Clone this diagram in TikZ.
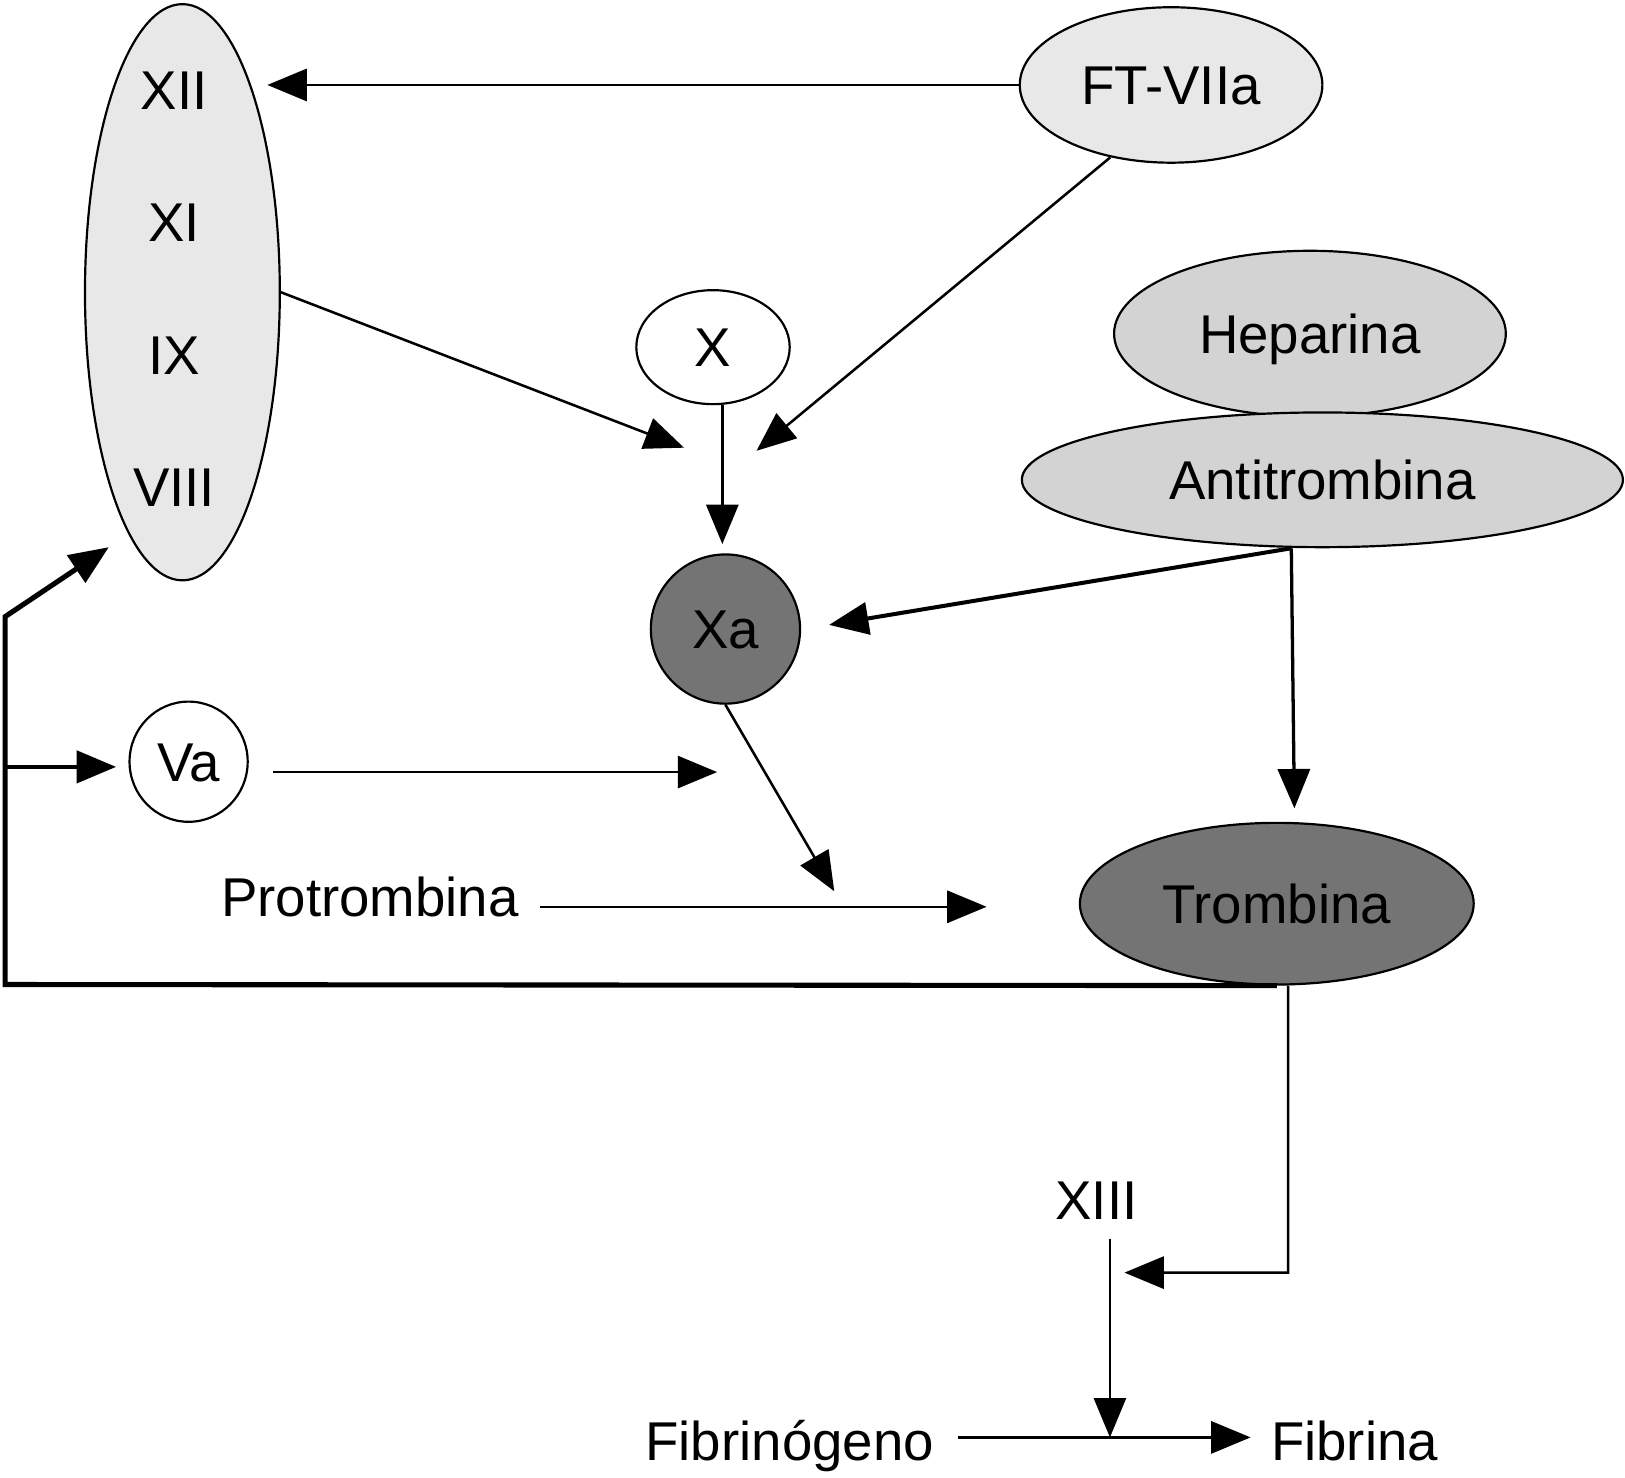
\documentclass[tikz,border=0pt]{standalone}
\usepackage{fontspec}
\setmainfont{Liberation Sans}
\usetikzlibrary{arrows.meta,shapes.geometric}
\definecolor{palefill}{HTML}{E8E8E8}
\definecolor{midfill}{HTML}{D3D3D3}
\definecolor{darkfill}{HTML}{747474}

\begin{document}
\begin{tikzpicture}[x=0.1mm, y=-0.1mm, >={Triangle[length=3.8mm,width=3.1mm]},
  factor/.style={ellipse, draw, line width=0.6pt, inner sep=0pt, font=\fontsize{15}{18}\selectfont, text height=10.7pt, text depth=0pt},
  term/.style={inner sep=0pt, font=\fontsize{15}{18}\selectfont, text height=10.7pt, text depth=0pt},
  link/.style={line width=0.7pt},
  heavy/.style={line width=1.4pt}]
\useasboundingbox (0,0) rectangle (1568,1426);
\node[factor, fill=palefill, minimum width=18.8mm, minimum height=55.6mm] (cascade) at (176,282) {};
\foreach \f [count=\i] in {XII,XI,IX,VIII}
  \node[term] (f\i) at (168,{87+127.7*(\i-1)}) {\f};
\node[factor, fill=palefill, minimum width=29.2mm, minimum height=15mm] (ft) at (1130,82) {FT-VIIa};
\node[factor, fill=white, minimum width=14.8mm, minimum height=11mm] (x) at (688,335) {X};
\node[factor, circle, fill=darkfill, minimum size=14.4mm] (xa) at (700,607) {Xa};
\node[factor, fill=midfill, minimum width=37.8mm, minimum height=16mm] (heparina) at (1264,322) {Heparina};
\node[factor, fill=midfill, minimum width=58mm, minimum height=13mm] (antitrombina) at (1276,463) {Antitrombina};
\node[factor, fill=white, minimum width=11.4mm, minimum height=11.6mm] (va) at (182,735) {Va};
\node[factor, fill=darkfill, minimum width=38mm, minimum height=15.6mm] (trombina) at (1232,872) {Trombina};
\node[term] (protrombina) at (357,866) {Protrombina};
\node[term] (xiii) at (1058,1158) {XIII};
\node[term] (fibrinogeno) at (762,1390) {Fibrinógeno};
\node[term] (fibrina) at (1307,1390) {Fibrina};
\coordinate (xiiTip) at (258,82);
\coordinate (xaLeft) at (660,432);
\coordinate (xaRight) at (730,435);
\coordinate (xaTop) at (697,525);
\coordinate (xaSide) at (800,603);
\coordinate (xaBelow) at (805,860);
\coordinate (tromTop) at (1249,780);
\coordinate (vaEnd) at (692,745);
\coordinate (proEnd) at (952,875);
\coordinate (loopBottom) at (5,950);
\coordinate (loopTop) at (5,595);
\coordinate (loopTip) at (105,528);
\coordinate (loopBranch) at (5,740);
\coordinate (vaTip) at (112,740);
\coordinate (corner) at (1243,1228);
\coordinate (xiiiIn) at (1085,1228);
\coordinate (fibMid) at (1071,1387);
\draw[link,->] (ft.west) -- (xiiTip);
\draw[link,->] (ft.-130) -- (xaRight);
\draw[link,->] (cascade.east) -- (xaLeft);
\draw[link,->] (x.south -| xaTop) -- (xaTop);
\draw[line width=1.1pt,->] ([xshift=-3mm]antitrombina.south) -- (xaSide);
\draw[line width=0.9pt,->] ([xshift=-3mm]antitrombina.south) -- (tromTop);
\draw[link,->] (xa.south) -- (xaBelow);
\draw[link,->,shorten <=2.3mm] (va.east |- vaEnd) -- (vaEnd);
\draw[link,->,shorten <=2mm] (protrombina.east |- proEnd) -- (proEnd);
\draw[heavy,->] (trombina.south) -- (loopBottom) -- (loopTop) -- (loopTip);
\draw[line width=1.1pt,->] (loopBranch) -- (vaTip);
\draw[link,->] ([xshift=1.1mm]trombina.south) -- (corner) -- (xiiiIn);
\draw[link,->,shorten <=1.8mm] (xiii.south -| fibMid) -- (fibMid);
\draw[link,->,shorten <=2.2mm,shorten >=1.9mm] (fibrinogeno.east |- fibMid) -- (fibrina.west |- fibMid);
\end{tikzpicture}
\end{document}
